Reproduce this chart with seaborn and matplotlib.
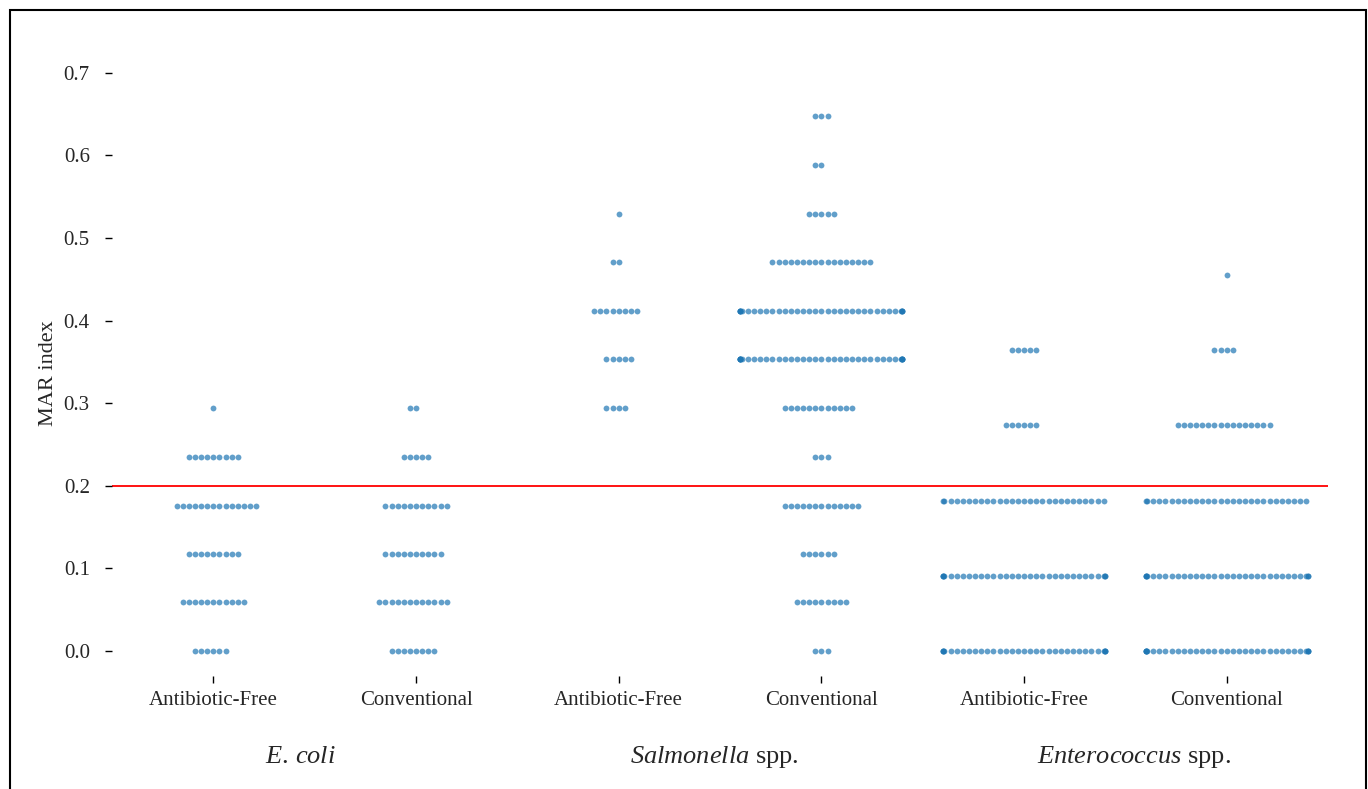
import numpy as np
import pandas as pd
import matplotlib
matplotlib.use("Agg")
import matplotlib.pyplot as plt
import matplotlib.transforms as mtransforms
import seaborn as sns
from matplotlib.patches import Rectangle

# ---- data (MAR index value -> number of isolates) ----
categories = ["E. coli|Antibiotic-Free", "E. coli|Conventional",
              "Salmonella|Antibiotic-Free", "Salmonella|Conventional",
              "Enterococcus|Antibiotic-Free", "Enterococcus|Conventional"]
tick_labels = ["Antibiotic-Free", "Conventional"] * 3

ecoli_af_values = [0.0, 0.059, 0.118, 0.176, 0.235, 0.294]
ecoli_af_counts = [6, 11, 9, 14, 9, 1]
ecoli_conv_values = [0.0, 0.059, 0.118, 0.176, 0.235, 0.294]
ecoli_conv_counts = [8, 12, 10, 11, 5, 2]
salm_af_values = [0.294, 0.353, 0.412, 0.471, 0.529]
salm_af_counts = [4, 5, 8, 2, 1]
salm_conv_values = [0.0, 0.059, 0.118, 0.176, 0.235, 0.294, 0.353, 0.412,
                    0.471, 0.529, 0.588, 0.647]
salm_conv_counts = [3, 9, 6, 13, 3, 12, 36, 34, 17, 5, 2, 3]
ent_af_values = [0.0, 0.091, 0.182, 0.273, 0.364]
ent_af_counts = [33, 32, 28, 6, 5]
ent_conv_values = [0.0, 0.091, 0.182, 0.273, 0.364, 0.455]
ent_conv_counts = [34, 32, 28, 16, 4, 1]

group_names = [r"$\mathit{E.\,coli}$", r"$\mathit{Salmonella}$ spp.",
               r"$\mathit{Enterococcus}$ spp."]
y_ticks = [0.0, 0.1, 0.2, 0.3, 0.4, 0.5, 0.6, 0.7]
threshold = 0.2

series = [(ecoli_af_values, ecoli_af_counts), (ecoli_conv_values, ecoli_conv_counts),
          (salm_af_values, salm_af_counts), (salm_conv_values, salm_conv_counts),
          (ent_af_values, ent_af_counts), (ent_conv_values, ent_conv_counts)]
rows = []
for cat, (vals, cnts) in zip(categories, series):
    for v, c in zip(vals, cnts):
        rows += [(cat, v)] * c
df = pd.DataFrame(rows, columns=["group", "MAR"])

# ---- style ----
sns.set_style("white")
plt.rcParams["font.family"] = ["Liberation Serif", "DejaVu Serif"]
plt.rcParams["mathtext.fontset"] = "custom"
plt.rcParams["mathtext.rm"] = "Liberation Serif"
plt.rcParams["mathtext.it"] = "Liberation Serif:italic"

fig = plt.figure(figsize=(13.68, 7.89), dpi=100)
ax = fig.add_axes([0.0819, 0.1435, 0.8889, 0.7665])

sns.swarmplot(data=df, x="group", y="MAR", order=categories, color="#1f77b4",
              alpha=0.7, size=4.2, linewidth=0, ax=ax, warn_thresh=1.0)

ax.axhline(threshold, color="red", lw=1.3, zorder=0)
ax.set_ylim(-0.03, 0.702)
ax.set_yticks(y_ticks)
ax.set_yticklabels([f"{t:.1f}" for t in y_ticks])
ax.set_xticks(range(len(categories)))
ax.set_xticklabels(tick_labels)
ax.set_xlabel("")
ax.set_ylabel("MAR index", fontsize=16, labelpad=4)
ax.tick_params(axis="y", length=5, width=1, color="black", labelsize=15, pad=11, left=True)
ax.tick_params(axis="x", length=5, width=1, color="black", labelsize=15, pad=6, bottom=True)
sns.despine(ax=ax, left=True, bottom=True, top=True, right=True)

group_x = [0.43, 2.47, 4.54]
blend = mtransforms.blended_transform_factory(ax.transData, fig.transFigure)
for gx, name in zip(group_x, group_names):
    ax.text(gx, 1 - 757 / 789, name, ha="center", va="center", fontsize=19,
            transform=blend)

fig.patches.append(Rectangle((10 / 1368, -0.02), 1356 / 1368, 1.02 - 10 / 789,
                             transform=fig.transFigure, fill=False,
                             edgecolor="black", lw=1.5))

fig.savefig("out.png", dpi=100)
